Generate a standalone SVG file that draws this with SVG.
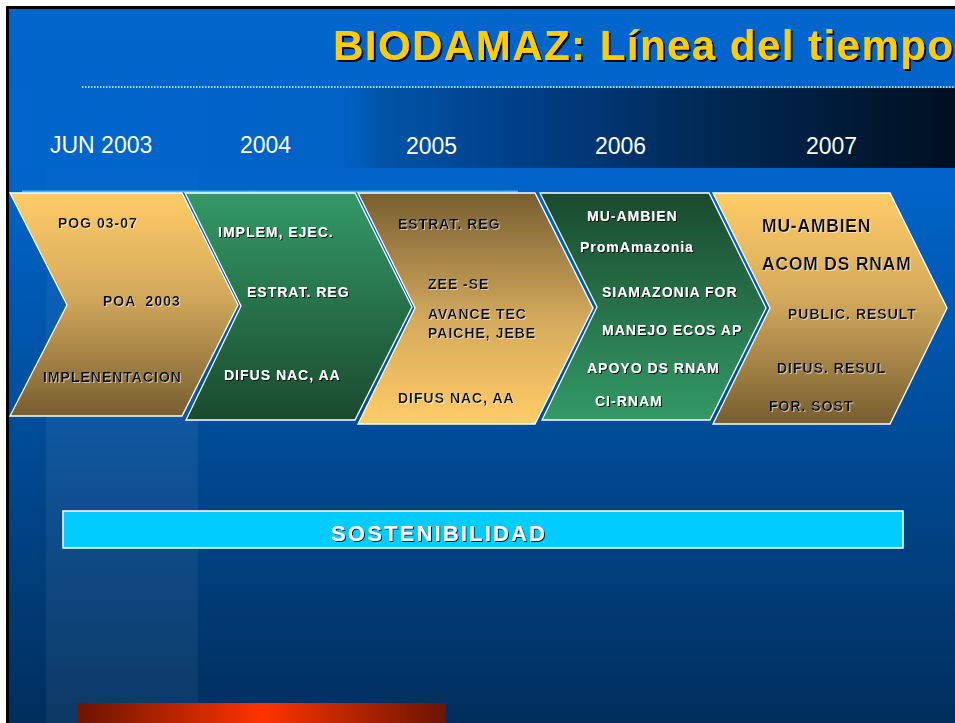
<svg xmlns="http://www.w3.org/2000/svg" width="955" height="723" viewBox="0 0 955 723">
<defs>
<linearGradient id="bg" x1="0" y1="9" x2="0" y2="723" gradientUnits="userSpaceOnUse">
<stop offset="0" stop-color="#0066CC"/>
<stop offset="0.25" stop-color="#0064C8"/>
<stop offset="0.62" stop-color="#004A94"/>
<stop offset="1" stop-color="#002E5C"/>
</linearGradient>
<linearGradient id="band" x1="0" y1="0" x2="955" y2="0" gradientUnits="userSpaceOnUse">
<stop offset="0" stop-color="#0066CC"/>
<stop offset="0.36" stop-color="#0062C4"/>
<stop offset="0.40" stop-color="#0054A8"/>
<stop offset="0.55" stop-color="#003E86"/>
<stop offset="0.73" stop-color="#002A58"/>
<stop offset="0.94" stop-color="#00152C"/>
<stop offset="1" stop-color="#000F1F"/>
</linearGradient>
<linearGradient id="col" x1="0" y1="168" x2="0" y2="723" gradientUnits="userSpaceOnUse">
<stop offset="0" stop-color="#FFFFFF" stop-opacity="0.01"/>
<stop offset="0.4" stop-color="#FFFFFF" stop-opacity="0.06"/>
<stop offset="1" stop-color="#FFFFFF" stop-opacity="0.05"/>
</linearGradient>
<linearGradient id="yel" x1="0" y1="0" x2="0" y2="1">
<stop offset="0" stop-color="#FFCC66"/>
<stop offset="0.45" stop-color="#D4AA5C"/>
<stop offset="1" stop-color="#775E30"/>
</linearGradient>
<linearGradient id="brn" x1="0" y1="0" x2="0" y2="1">
<stop offset="0" stop-color="#775E30"/>
<stop offset="0.55" stop-color="#D4AA5C"/>
<stop offset="1" stop-color="#FFCC66"/>
</linearGradient>
<linearGradient id="grn" x1="0" y1="0" x2="0" y2="1">
<stop offset="0" stop-color="#339966"/>
<stop offset="1" stop-color="#1A4A2E"/>
</linearGradient>
<linearGradient id="grn2" x1="0" y1="0" x2="0" y2="1">
<stop offset="0" stop-color="#1A4A2E"/>
<stop offset="1" stop-color="#339966"/>
</linearGradient>
<linearGradient id="red" x1="0" y1="0" x2="1" y2="0">
<stop offset="0" stop-color="#6B1500"/>
<stop offset="0.5" stop-color="#FF3300"/>
<stop offset="1" stop-color="#6B1500"/>
</linearGradient>
<filter id="shd" x="-5%" y="-20%" width="115%" height="150%">
<feDropShadow dx="1" dy="1" stdDeviation="0" flood-color="#000" flood-opacity="0.85"/>
</filter>
<filter id="shl" x="-5%" y="-20%" width="115%" height="150%">
<feDropShadow dx="1" dy="1" stdDeviation="0" flood-color="#FFF" flood-opacity="0.55"/>
</filter>
<filter id="sht" x="-5%" y="-20%" width="115%" height="150%">
<feDropShadow dx="2" dy="2" stdDeviation="0" flood-color="#000" flood-opacity="0.9"/>
</filter>
</defs>
<style>
.chev { stroke: #FFFFFF; stroke-width: 1.3; }
.t { font-family: "Liberation Sans", Arial, sans-serif; font-weight: bold; font-size: 14px; letter-spacing: 1px; }
.dk { fill: #111111; filter: url(#shl); }
.wt { fill: #FFFFFF; filter: url(#shd); }
.big { font-size: 17.5px; letter-spacing: 0.8px; }
.yr { font-family: "Liberation Sans", Arial, sans-serif; font-size: 23px; fill: #FFFFFF; }
</style>

<rect x="0" y="0" width="955" height="723" fill="#FFFFFF"/>
<rect x="6" y="6" width="949" height="717" fill="#000000"/>
<rect x="9" y="9" width="946" height="714" fill="url(#bg)"/>
<rect x="9" y="88" width="946" height="80" fill="url(#band)"/>
<rect x="46" y="168" width="152" height="555" fill="url(#col)"/>
<line x1="82" y1="87" x2="955" y2="87" stroke="#FFFFFF" stroke-width="1.5" stroke-dasharray="1.5 1.5"/>
<line x1="22" y1="191.5" x2="518" y2="191.5" stroke="#44B8F0" stroke-width="2"/>

<g id="title">
<text x="333" y="60" font-family="Liberation Sans, Arial, sans-serif" font-weight="bold" font-size="42" fill="#FFCC00" filter="url(#sht)" textLength="620" lengthAdjust="spacing">BIODAMAZ: Línea del tiempo</text>
</g>

<g id="years">
<text class="yr" x="50" y="153">JUN 2003</text>
<text class="yr" x="240" y="153">2004</text>
<text class="yr" x="406" y="154">2005</text>
<text class="yr" x="595" y="154">2006</text>
<text class="yr" x="806" y="154">2007</text>
</g>

<g id="chevron-2003">
<polygon class="chev" points="10,193 182,193 238,305 182,416 10,416 67,305" fill="url(#yel)"/>
<text class="t dk" x="58" y="228">POG 03-07</text>
<text class="t dk" x="103" y="306" xml:space="preserve">POA  2003</text>
<text class="t dk" x="43" y="382" letter-spacing="1.4">IMPLENENTACION</text>
</g>

<g id="chevron-2004">
<polygon class="chev" points="185,193 355,193 412,307 355,420 186,420 241,306" fill="url(#grn)"/>
<text class="t wt" x="218" y="237">IMPLEM, EJEC.</text>
<text class="t wt" x="247" y="297">ESTRAT. REG</text>
<text class="t wt" x="224" y="380">DIFUS NAC, AA</text>
</g>

<g id="chevron-2005">
<polygon class="chev" points="358,193 535,193 593,308 535,424 358,424 415,308" fill="url(#brn)"/>
<text class="t dk" x="398" y="229">ESTRAT. REG</text>
<text class="t dk" x="428" y="289">ZEE -SE</text>
<text class="t dk" x="428" y="319">AVANCE TEC</text>
<text class="t dk" x="428" y="338">PAICHE, JEBE</text>
<text class="t dk" x="398" y="403">DIFUS NAC, AA</text>
</g>

<g id="chevron-2006">
<polygon class="chev" points="540,193 709,193 766,308 710,420 542,420 597,307" fill="url(#grn2)"/>
<text class="t wt" x="587" y="221">MU-AMBIEN</text>
<text class="t wt" x="580" y="252" font-size="15" letter-spacing="0.8">PromAmazonia</text>
<text class="t wt" x="602" y="297">SIAMAZONIA FOR</text>
<text class="t wt" x="602" y="335">MANEJO ECOS AP</text>
<text class="t wt" x="587" y="373">APOYO DS RNAM</text>
<text class="t wt" x="595" y="406" font-size="17" letter-spacing="1.5">CI-RNAM</text>
</g>

<g id="chevron-2007">
<polygon class="chev" points="713,193 890,193 947,308 890,424 713,424 770,308" fill="url(#yel)"/>
<text class="t dk big" x="762" y="232">MU-AMBIEN</text>
<text class="t dk big" x="762" y="270">ACOM DS RNAM</text>
<text class="t dk" x="788" y="319">PUBLIC. RESULT</text>
<text class="t dk" x="777" y="373">DIFUS. RESUL</text>
<text class="t dk" x="769" y="411">FOR. SOST</text>
</g>

<g id="sostenibilidad">
<rect x="63" y="511" width="840" height="37" fill="#00CCFF" stroke="#FFFFFF" stroke-width="1.5"/>
<text x="331" y="541" font-family="Liberation Sans, Arial, sans-serif" font-weight="bold" font-size="22" fill="#FFFFFF" filter="url(#shd)" textLength="214" lengthAdjust="spacing">SOSTENIBILIDAD</text>
</g>

<g id="connectors"></g>

<rect x="78" y="703" width="368" height="20" fill="url(#red)"/>
</svg>
